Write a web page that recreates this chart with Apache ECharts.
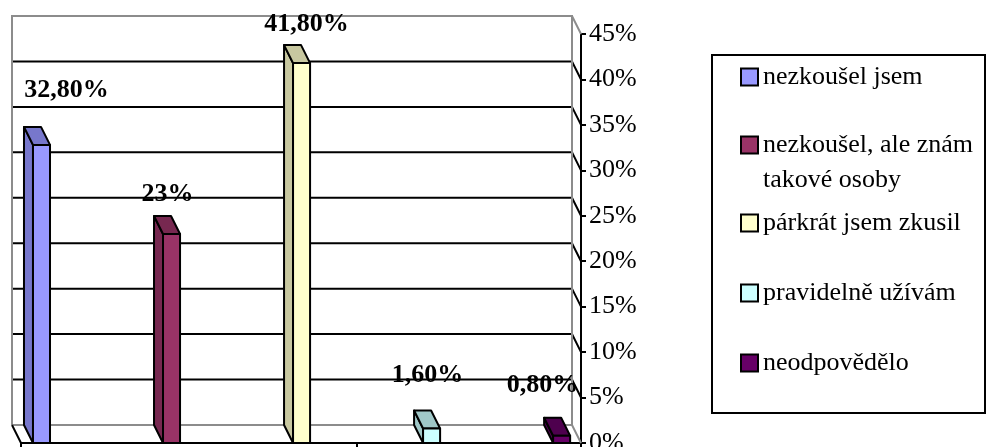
<!DOCTYPE html>
<html>
<head>
<meta charset="utf-8">
<script src="https://cdn.jsdelivr.net/npm/echarts@6/dist/echarts.min.js"></script>
<style>
  html, body { margin: 0; padding: 0; background: #fff; }
  #chart { width: 986px; height: 447px; }
</style>
</head>
<body>
<div id="chart"></div>
<script>
// Survey answers and their shares (percent)
const categories = ['nezkoušel jsem', 'nezkoušel, ale znám takové osoby', 'párkrát jsem zkusil', 'pravidelně užívám', 'neodpovědělo'];
const shares = [32.8, 23, 41.8, 1.6, 0.8];
const valueTicks = [0, 5, 10, 15, 20, 25, 30, 35, 40, 45];

// Styling
const frontColors = ['#9999FF', '#993366', '#FFFFCC', '#CCFFFF', '#660066'];
const shadeColors = ['#7777CC', '#772850', '#C8C8A0', '#A0C8C8', '#4E004E'];
const labelNudge = [[25, -55], [-4, -40], [5, -39], [-4, -53], [-19, -50]];
const legendCenters = [77, 145, 223, 293, 363];

// 3D depth offset from front plane to back wall
const DX = 9, DY = 18;
// Bar placement inside a category band (fractions of band width)
const LEAD = 0.107, SLOT = 0.161, FACE = 0.152;
const SERIF = "'Liberation Serif', 'Times New Roman', serif";

function pctText(v) {
  const s = Number.isInteger(v) ? String(v) : v.toFixed(2);
  return s.replace('.', ',') + '%';
}

function frameItem(params, api) {
  const cs = params.coordSys;
  const fl = cs.x, fr = cs.x + cs.width;
  const bl = fl - DX, br = fr - DX;
  const gray = { stroke: '#8C8C8C', lineWidth: 2, fill: null };
  const black = { stroke: '#000', lineWidth: 2, fill: null };
  const children = [];
  const yTop = api.coord([0, valueTicks[valueTicks.length - 1]])[1];
  const yBot = api.coord([0, valueTicks[0]])[1];
  // inner gridlines on the back wall, continuing across the right side wall
  valueTicks.forEach(function (t, i) {
    if (i === 0 || i === valueTicks.length - 1) return;
    const y = api.coord([0, t])[1];
    children.push({ type: 'polyline', shape: { points: [[bl, y - DY], [br, y - DY], [fr, y]] }, style: black });
  });
  // back wall outline, floor edge and the top of the side wall
  children.push({ type: 'polyline', shape: { points: [[bl, yBot - DY], [bl, yTop - DY], [br, yTop - DY], [br, yBot - DY], [bl, yBot - DY]] }, style: gray });
  children.push({ type: 'line', shape: { x1: br, y1: yTop - DY, x2: fr, y2: yTop }, style: gray });
  children.push({ type: 'line', shape: { x1: br, y1: yBot - DY, x2: fr, y2: yBot }, style: gray });
  children.push({ type: 'line', shape: { x1: bl, y1: yBot - DY, x2: fl, y2: yBot }, style: black });
  return { type: 'group', children: children };
}

function barItem(s) {
  return function (params, api) {
    const cat = api.value(0), v = api.value(1);
    const base = api.coord([cat, 0]);
    const top = api.coord([cat, v]);
    const bw = api.size([1, 0])[0];
    const x0 = base[0] - bw / 2 + bw * (LEAD + s * SLOT);
    const w = bw * FACE;
    const yb = base[1], yt = top[1];
    const edge = { stroke: '#000', lineWidth: 2, lineJoin: 'round' };
    return {
      type: 'group',
      children: [
        { type: 'polygon', shape: { points: [[x0, yt], [x0, yb], [x0 - DX, yb - DY], [x0 - DX, yt - DY]] },
          style: Object.assign({ fill: shadeColors[s] }, edge) },
        { type: 'polygon', shape: { points: [[x0, yt], [x0 + w, yt], [x0 + w - DX, yt - DY], [x0 - DX, yt - DY]] },
          style: Object.assign({ fill: shadeColors[s] }, edge) },
        { type: 'rect', shape: { x: x0, y: yt, width: w, height: yb - yt },
          style: Object.assign({ fill: frontColors[s] }, edge) },
        { type: 'text', z2: 10,
          style: { text: pctText(v), x: x0 + w / 2 + labelNudge[s][0], y: yt + labelNudge[s][1],
                   align: 'center', verticalAlign: 'middle', fill: '#000',
                   font: 'bold 26px ' + SERIF } }
      ]
    };
  };
}

const series = [{
  type: 'custom', name: '__frame', coordinateSystem: 'cartesian2d',
  data: [[0, 0]], encode: { x: 0, y: 1 }, renderItem: frameItem, z: 1, silent: true, clip: false
}];
categories.forEach(function (name, s) {
  series.push({
    type: 'custom', name: name, coordinateSystem: 'cartesian2d',
    data: [[s, shares[s]]], encode: { x: 0, y: 1 },
    itemStyle: { color: frontColors[s] },
    renderItem: barItem(s), z: 2, clip: false
  });
});

const legends = categories.map(function (name, s) {
  const lines = s === 1 ? 3 : 1;
  return {
    data: [name], orient: 'vertical', left: 740, top: legendCenters[s] - 17.5 * lines,
    padding: 0, itemWidth: 17, itemHeight: 17, itemGap: 0, icon: 'rect',
    selectedMode: false,
    itemStyle: { borderColor: '#000', borderWidth: 2 },
    formatter: s === 1 ? function (n) { return '\n' + n.replace(' takové', '\ntakové'); } : '{name}',
    textStyle: { fontFamily: SERIF, fontSize: 26, color: '#000', lineHeight: 35, padding: 0 }
  };
});

const chart = echarts.init(document.getElementById('chart'), null, { renderer: 'canvas' });
chart.setOption({
  backgroundColor: '#fff',
  animation: false,
  grid: { left: 21, right: 405, top: 34, bottom: 4, containLabel: false, outerBoundsMode: 'none' },
  xAxis: {
    type: 'category', data: categories, boundaryGap: true,
    axisLine: { show: true, lineStyle: { color: '#000', width: 2 } },
    axisTick: { show: true, length: 5, lineStyle: { color: '#000', width: 2 } },
    axisLabel: { show: false }, splitLine: { show: false }
  },
  yAxis: {
    type: 'value', position: 'right', min: 0, max: 45, interval: 5,
    axisLine: { show: true, lineStyle: { color: '#000', width: 2 } },
    axisTick: { show: true, length: 5, lineStyle: { color: '#000', width: 2 } },
    axisLabel: { formatter: '{value}%', fontFamily: SERIF, fontSize: 26, color: '#000', margin: 8 },
    splitLine: { show: false }
  },
  legend: legends,
  graphic: [{
    type: 'rect', shape: { x: 712, y: 55, width: 273, height: 358 },
    style: { fill: null, stroke: '#000', lineWidth: 2 }, silent: true
  }],
  series: series
});
</script>
</body>
</html>
